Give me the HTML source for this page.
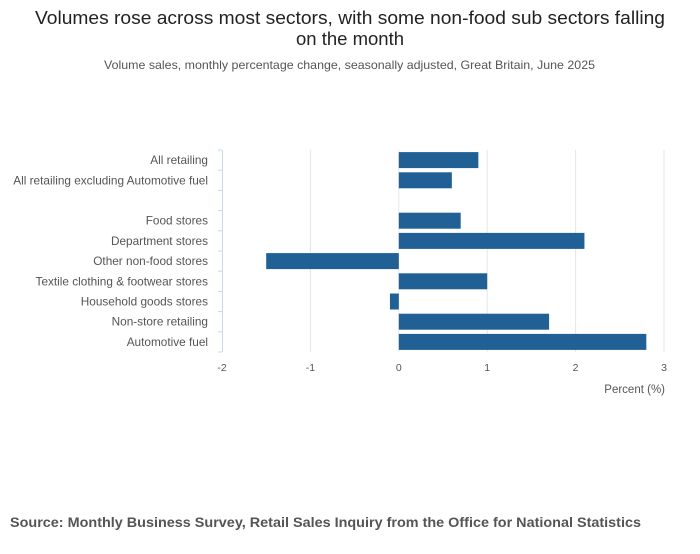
<!DOCTYPE html>
<html><head><meta charset="utf-8"><style>
body{margin:0;background:#fff;font-family:"Liberation Sans","DejaVu Sans",sans-serif;}
svg text{font-family:"Liberation Sans","DejaVu Sans",sans-serif;}
</style></head><body>
<svg id="chart" width="700" height="549" xmlns="http://www.w3.org/2000/svg">
<text x="35" y="24" font-size="18.5" fill="#222" textLength="630" lengthAdjust="spacingAndGlyphs">Volumes rose across most sectors, with some non-food sub sectors falling</text>
<text x="350" y="45" font-size="18.5" fill="#222" text-anchor="middle">on the month</text>
<text x="104" y="69" font-size="12" fill="#555" textLength="491" lengthAdjust="spacingAndGlyphs">Volume sales, monthly percentage change, seasonally adjusted, Great Britain, June 2025</text>
<g id="grid"></g><g id="bars"></g><g id="yaxis"></g><g id="xaxis"></g>
<text x="665" y="393" font-size="11.5" fill="#555" text-anchor="end">Percent (%)</text>
<text x="10" y="527" font-size="14" font-weight="bold" fill="#555" textLength="631" lengthAdjust="spacingAndGlyphs">Source: Monthly Business Survey, Retail Sales Inquiry from the Office for National Statistics</text>
</svg>
<script>
const categories=["All retailing","All retailing excluding Automotive fuel","","Food stores","Department stores","Other non-food stores","Textile clothing & footwear stores","Household goods stores","Non-store retailing","Automotive fuel"];
const values=[0.9,0.6,null,0.7,2.1,-1.5,1.0,-0.1,1.7,2.8];
const xTicks=[-2,-1,0,1,2,3];
const NS="http://www.w3.org/2000/svg";
const x0=222,x1=664,xmin=-2,xmax=3,yTop=150,yBottom=352;
const band=(yBottom-yTop)/categories.length;
function xs(v){return x0+(v-xmin)/(xmax-xmin)*(x1-x0);}
function mk(t,a,p){const e=document.createElementNS(NS,t);for(const k in a)e.setAttribute(k,a[k]);p.appendChild(e);return e;}
const g=document.getElementById('grid'),b=document.getElementById('bars'),ya=document.getElementById('yaxis'),xa=document.getElementById('xaxis');
xTicks.forEach(t=>{
 if(t!==xmin){const l=mk('line',{x1:xs(t),x2:xs(t),y1:yTop,y2:yBottom,stroke:'#e6e6e6','stroke-width':1},g);
 
 }
 const tx=mk('text',{x:xs(t),y:371,'font-size':10.5,fill:'#555','text-anchor':'middle'},xa);tx.textContent=t;
 
 
});
const ax=mk('line',{x1:x0+0.5,x2:x0+0.5,y1:yTop,y2:yBottom,stroke:'#ccd6eb','stroke-width':1},ya);


for(let i=0;i<=categories.length;i++){
 const y=yTop+i*band;
 const tk=mk('line',{x1:x0-4,x2:x0,y1:y,y2:y,stroke:'#ccd6eb','stroke-width':1},ya);
 
 
}
categories.forEach((c,i)=>{
 const cy=yTop+(i+0.5)*band;
 if(c){const t=mk('text',{x:208,y:cy+4,'font-size':11.8,fill:'#555','text-anchor':'end'},ya);t.textContent=c;
 
 }
 const v=values[i];
 if(v!==null){
  const xa0=xs(Math.min(0,v)),xa1=xs(Math.max(0,v));
  const r=mk('rect',{x:xa0,y:cy-8,width:xa1-xa0,height:16,fill:'#206095'},b);
  
  
 }
});
</script>
</body></html>
